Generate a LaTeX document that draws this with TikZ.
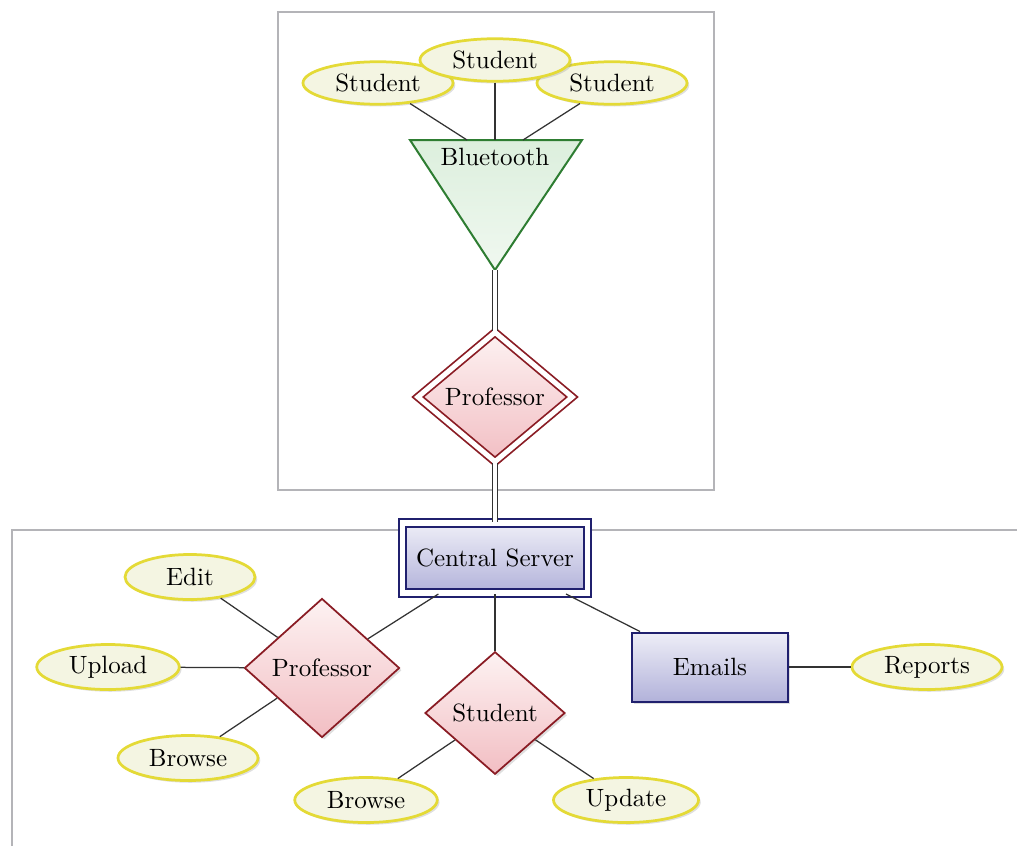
\documentclass[tikz,border=0pt]{standalone}
\usetikzlibrary{shapes.geometric,shadows}
\definecolor{attrline}{HTML}{E4DA36}
\definecolor{attrfill}{HTML}{F4F5E2}
\definecolor{relline}{HTML}{8A1C24}
\definecolor{relA}{HTML}{FDF2F2}
\definecolor{relB}{HTML}{F2BEC3}
\definecolor{entline}{HTML}{20206E}
\definecolor{entA}{HTML}{EEEEF7}
\definecolor{entB}{HTML}{B2B2DA}
\definecolor{triline}{HTML}{2E7D32}
\definecolor{triA}{HTML}{DCEFDD}
\definecolor{triB}{HTML}{F0F8F0}
\definecolor{framecol}{HTML}{B4B4B8}
\begin{document}
\begin{tikzpicture}[x=0.4pt,y=-0.4pt,
  shade/.style={drop shadow={opacity=0.25, shadow xshift=0.9pt, shadow yshift=-0.9pt}},
  attr/.style={ellipse, draw=attrline, line width=1.1pt, fill=attrfill, minimum height=17pt, inner sep=1pt, shade},
  rel/.style={diamond, draw=relline, line width=0.7pt, top color=relA, bottom color=relB, aspect=1.15, inner sep=1pt, shade},
  ent/.style={rectangle, draw=entline, line width=0.8pt, top color=entA, bottom color=entB, inner sep=2pt, shade},
  tri/.style={draw=triline, line width=0.8pt, top color=triA, bottom color=triB, line join=miter},
  link/.style={draw=black!80, line width=0.5pt},
  dlink/.style={draw=black!80, double=white, double distance=1.6pt, line width=0.55pt},
  frame/.style={draw=framecol, line width=0.5pt}
]
\useasboundingbox (0,0) rectangle (1017,846);
% frames
\draw[frame] (278,12) rectangle (714,490);
\draw[frame] (12,846) -- (12,530) -- (1017,530);

% top part
\coordinate (bt-a) at (410,140);
\coordinate (bt-b) at (582,140);
\coordinate (bt-apex) at (495,270);
\coordinate (bt-l) at (467,140);
\coordinate (bt-m) at (495,140);
\coordinate (bt-r) at (523,140);
\draw[tri] (bt-a) -- (bt-b) -- (bt-apex) -- cycle;
\node (bt) at (495,157) {Bluetooth};

\node[attr, minimum width=60pt] (s1) at (378,83) {Student};
\node[attr, minimum width=60pt] (s3) at (612,83) {Student};
\node[attr, minimum width=60pt] (s2) at (495,60) {Student};

\node[rel, double=white, double distance=2pt, minimum width=62pt, minimum height=52pt] (p1) at (495,397) {Professor};

% central
\node[ent, double=white, double distance=2.2pt, minimum width=74pt, minimum height=28pt] (cs) at (495,558) {Central Server};

\node[rel, minimum width=62pt, minimum height=55.6pt] (prof) at (322,668) {Professor};
\node[rel, minimum width=56pt, minimum height=49pt] (stu) at (495,713) {Student};
\node[ent, minimum width=62.4pt, minimum height=27.6pt] (emails) at (710,667) {Emails};

\node[attr, minimum width=52pt, minimum height=18pt] (edit) at (190,577) {Edit};
\node[attr, minimum width=57pt, minimum height=18pt] (upload) at (108,667) {Upload};
\node[attr, minimum width=56pt, minimum height=18pt] (browse1) at (188,758) {Browse};
\node[attr, minimum width=57pt, minimum height=18pt] (browse2) at (366,800) {Browse};
\node[attr, minimum width=58pt, minimum height=18pt] (update) at (626,800) {Update};
\node[attr, minimum width=60pt, minimum height=18pt] (reports) at (927,667) {Reports};

% connectors
\draw[link] (s1) -- (bt-l);
\draw[link] (s2) -- (bt-m);
\draw[link] (s3) -- (bt-r);
\draw[dlink] (bt-apex) -- (p1.north);
\draw[dlink] (p1.south) -- (cs.north);
\draw[link] (edit) -- (prof);
\draw[link] (upload) -- (prof);
\draw[link] (browse1) -- (prof);
\draw[link] (prof) -- (cs);
\draw[link] (cs) -- (stu);
\draw[link] (stu) -- (browse2);
\draw[link] (stu) -- (update);
\draw[link] (cs) -- (emails);
\draw[link] (emails) -- (reports);
\end{tikzpicture}
\end{document}
